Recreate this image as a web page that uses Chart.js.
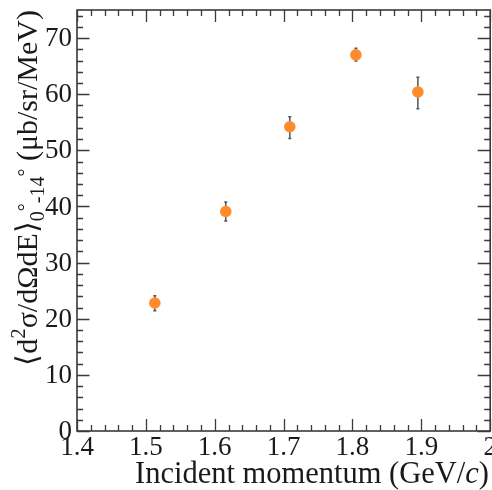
<!DOCTYPE html>
<html>
<head>
<meta charset="utf-8">
<script src="https://cdn.jsdelivr.net/npm/chart.js@4/dist/chart.umd.min.js"></script>
<style>
html,body{margin:0;padding:0;overflow:hidden;background:#fff;width:492px;height:490px;}
canvas{display:block;}
</style>
</head>
<body>
<canvas id="c" width="496" height="490"></canvas>
<script>
// ---- data ----
const momentum = [1.513, 1.616, 1.709, 1.805, 1.895];
const crossSection = [22.8, 39.1, 54.2, 67.0, 60.4];
const errUp = [1.3, 1.7, 1.8, 1.2, 2.6];
const errDown = [1.4, 1.7, 2.1, 1.1, 3.0];
const xTickLabels = ['1.4', '1.5', '1.6', '1.7', '1.8', '1.9', '2'];
const yTickLabels = ['0', '10', '20', '30', '40', '50', '60', '70'];
const xRange = [1.4, 2.0];
const yRange = [0, 75];
const xMajorStep = 0.1, xMinorStep = 0.02;
const yMajorStep = 10, yMinorStep = 2;

const FONT = '"Liberation Serif", "Times New Roman", serif';
const AXIS_COLOR = '#3a3a3a';
const TEXT_COLOR = '#1a1a1a';

function drawSegments(ctx, segs, x, y) {
  let cx = x;
  for (const s of segs) {
    ctx.font = (s.italic ? 'italic ' : '') + s.size + 'px ' + FONT;
    ctx.fillText(s.t, cx, y + (s.dy || 0));
    cx += ctx.measureText(s.t).width + (s.gap || 0);
  }
  return cx - x;
}
function measureSegments(ctx, segs) {
  let w = 0;
  for (const s of segs) {
    ctx.font = (s.italic ? 'italic ' : '') + s.size + 'px ' + FONT;
    w += ctx.measureText(s.t).width + (s.gap || 0);
  }
  return w;
}

const framePlugin = {
  id: 'frame',
  beforeDatasetsDraw(chart) {
    const ctx = chart.ctx;
    const xs = chart.scales.x, ys = chart.scales.y;
    ctx.save();
    ctx.strokeStyle = '#555';
    ctx.lineWidth = 1.5;
    for (let i = 0; i < momentum.length; i++) {
      const px = xs.getPixelForValue(momentum[i]);
      const pTop = ys.getPixelForValue(crossSection[i] + errUp[i]);
      const pBot = ys.getPixelForValue(crossSection[i] - errDown[i]);
      ctx.beginPath();
      ctx.moveTo(px, pTop); ctx.lineTo(px, pBot);
      ctx.moveTo(px - 1.5, pTop); ctx.lineTo(px + 1.5, pTop);
      ctx.moveTo(px - 1.5, pBot); ctx.lineTo(px + 1.5, pBot);
      ctx.stroke();
    }
    ctx.restore();
  },
  afterDraw(chart) {
    const ctx = chart.ctx;
    const a = chart.chartArea;
    const xs = chart.scales.x, ys = chart.scales.y;
    ctx.save();
    // frame
    ctx.strokeStyle = AXIS_COLOR;
    ctx.lineWidth = 1.6;
    ctx.strokeRect(a.left, a.top, a.right - a.left, a.bottom - a.top);
    // ticks
    ctx.lineWidth = 1.3;
    ctx.beginPath();
    const nx = Math.round((xRange[1] - xRange[0]) / xMinorStep);
    for (let i = 0; i <= nx; i++) {
      const v = xRange[0] + i * xMinorStep;
      const major = i % Math.round(xMajorStep / xMinorStep) === 0;
      const len = major ? 12 : 6;
      const px = Math.round(xs.getPixelForValue(v)) + 0.5;
      ctx.moveTo(px, a.bottom); ctx.lineTo(px, a.bottom - len);
      ctx.moveTo(px, a.top); ctx.lineTo(px, a.top + len);
    }
    const ny = Math.round((yRange[1] - yRange[0]) / yMinorStep);
    for (let i = 0; i <= ny; i++) {
      const v = yRange[0] + i * yMinorStep;
      if (v > yRange[1]) break;
      const major = i % Math.round(yMajorStep / yMinorStep) === 0;
      const len = major ? 12.5 : 6;
      const py = Math.round(ys.getPixelForValue(v)) + 0.5;
      ctx.moveTo(a.left, py); ctx.lineTo(a.left + len, py);
      ctx.moveTo(a.right, py); ctx.lineTo(a.right - len, py);
    }
    ctx.stroke();

    // tick labels
    ctx.fillStyle = TEXT_COLOR;
    ctx.font = '27px ' + FONT;
    ctx.textAlign = 'center';
    ctx.textBaseline = 'alphabetic';
    xTickLabels.forEach((lab, i) => {
      const v = xRange[0] + i * xMajorStep;
      ctx.fillText(lab, xs.getPixelForValue(v), 455);
    });
    ctx.textAlign = 'right';
    ctx.textBaseline = 'middle';
    yTickLabels.forEach((lab, i) => {
      const v = yRange[0] + i * yMajorStep;
      ctx.fillText(lab, 72, ys.getPixelForValue(v) + 1);
    });

    // x title
    ctx.textAlign = 'left';
    ctx.textBaseline = 'alphabetic';
    const xt = [
      { t: 'Incident momentum (GeV/', size: 30.5 },
      { t: 'c', size: 30.5, italic: true },
      { t: ')', size: 30.5 }
    ];
    const wx = measureSegments(ctx, xt);
    drawSegments(ctx, xt, 489 - wx, 483);

    // y title
    const yt = [
      { t: '\u27E8d', size: 30 },
      { t: '2', size: 21, dy: -12 },
      { t: '\u03C3/d\u03A9dE\u27E9', size: 30 },
      { t: '0', size: 20, dy: 7 },
      { t: '\u00B0', size: 20, dy: -5 },
      { t: '-14', size: 20, dy: 7 },
      { t: '\u00B0', size: 20, dy: -5 },
      { t: ' (\u03BCb/sr/MeV)', size: 30 }
    ];
    const wy = measureSegments(ctx, yt);
    ctx.translate(37, 10 + wy);
    ctx.rotate(-Math.PI / 2);
    drawSegments(ctx, yt, 0, 0);
    ctx.restore();
  }
};

new Chart(document.getElementById('c'), {
  type: 'scatter',
  data: {
    datasets: [{
      data: momentum.map((m, i) => ({ x: m, y: crossSection[i] })),
      backgroundColor: '#ff8b2b',
      borderColor: '#ff8b2b',
      borderWidth: 0,
      pointRadius: 5.8,
      pointHoverRadius: 5.8
    }]
  },
  options: {
    responsive: false,
    animation: false,
    devicePixelRatio: 1,
    layout: { padding: { top: 10, right: 2, left: 0, bottom: 0 } },
    plugins: { legend: { display: false }, tooltip: { enabled: false } },
    scales: {
      x: {
        type: 'linear', min: xRange[0], max: xRange[1],
        ticks: { display: false, stepSize: xMajorStep },
        grid: { display: false }, border: { display: false },
        afterFit: s => { s.height = 59; }
      },
      y: {
        type: 'linear', min: yRange[0], max: yRange[1],
        ticks: { display: false, stepSize: yMajorStep },
        grid: { display: false }, border: { display: false },
        afterFit: s => { s.width = 77; }
      }
    }
  },
  plugins: [framePlugin]
});
</script>
</body>
</html>
